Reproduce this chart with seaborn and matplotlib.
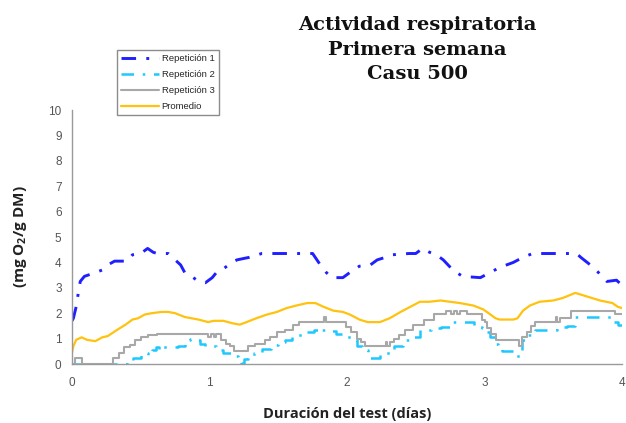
import matplotlib
matplotlib.use("Agg")
import matplotlib.pyplot as plt
import seaborn as sns
import numpy as np

# Repetición 1 (time in days, mg O2/g DM)
rep1_t = [0.0, 0.01, 0.03, 0.04, 0.06, 0.09, 0.17, 0.22, 0.26, 0.31, 0.40, 0.44, 0.50, 0.55, 0.59, 0.62,
          0.70, 0.75, 0.79, 0.82, 0.87, 0.92, 0.97, 1.02, 1.05, 1.09, 1.15, 1.20, 1.29, 1.38, 1.75, 1.80,
          1.85, 1.89, 1.97, 2.02, 2.09, 2.17, 2.22, 2.28, 2.33, 2.45, 2.50, 2.55, 2.60, 2.65, 2.70, 2.77,
          2.84, 2.97, 3.04, 3.11, 3.21, 3.28, 3.35, 3.67, 3.70, 3.77, 3.82, 3.89, 3.96, 4.0]
rep1_v = [1.7, 1.8, 2.25, 2.6, 3.25, 3.45, 3.6, 3.7, 3.9, 4.05, 4.05, 4.3, 4.35, 4.55, 4.4, 4.35,
          4.35, 4.1, 3.9, 3.6, 3.45, 3.25, 3.2, 3.4, 3.6, 3.7, 3.95, 4.1, 4.2, 4.35, 4.35, 3.95,
          3.6, 3.4, 3.4, 3.6, 3.85, 3.9, 4.1, 4.2, 4.3, 4.35, 4.35, 4.55, 4.4, 4.3, 4.1, 3.7,
          3.45, 3.4, 3.6, 3.8, 4.0, 4.2, 4.35, 4.35, 4.2, 3.9, 3.65, 3.25, 3.3, 3.1]

# Repetición 2
rep2_t = [0.0, 0.40, 0.44, 0.50, 0.53, 0.55, 0.58, 0.61, 0.63, 0.66, 0.77, 0.82, 0.86, 0.91, 0.93, 0.97,
          1.05, 1.10, 1.16, 1.21, 1.23, 1.25, 1.28, 1.32, 1.38, 1.45, 1.50, 1.55, 1.60, 1.64, 1.70, 1.76,
          1.80, 1.82, 1.86, 1.92, 1.96, 1.99, 2.04, 2.07, 2.11, 2.15, 2.24, 2.26, 2.34, 2.41, 2.47, 2.53,
          2.61, 2.68, 2.75, 2.92, 2.98, 3.01, 3.04, 3.08, 3.10, 3.13, 3.23, 3.27, 3.31, 3.37, 3.53, 3.60,
          3.66, 3.94, 3.97, 4.0]
rep2_v = [0.0, 0.1, 0.25, 0.35, 0.45, 0.35, 0.55, 0.65, 0.55, 0.65, 0.7, 0.95, 1.0, 0.95, 0.8, 0.7,
          0.55, 0.45, 0.3, 0.2, 0.05, 0.2, 0.3, 0.45, 0.6, 0.75, 0.85, 0.95, 1.05, 1.15, 1.25, 1.35,
          1.25, 1.35, 1.3, 1.2, 1.15, 1.05, 0.95, 0.7, 0.55, 0.25, 0.35, 0.45, 0.7, 0.95, 1.05, 1.35,
          1.4, 1.45, 1.65, 1.45, 1.4, 1.25, 1.05, 0.8, 0.7, 0.5, 0.3, 0.95, 1.15, 1.35, 1.45, 1.5,
          1.85, 1.65, 1.55, 1.55]

# Repetición 3
rep3_t = [0.0, 0.02, 0.07, 0.30, 0.34, 0.38, 0.42, 0.46, 0.50, 0.55, 0.62, 0.99, 1.01, 1.03, 1.05, 1.08,
          1.12, 1.15, 1.18, 1.28, 1.33, 1.40, 1.44, 1.49, 1.55, 1.61, 1.65, 1.83, 1.85, 1.99, 2.03, 2.07,
          2.10, 2.13, 2.28, 2.29, 2.31, 2.34, 2.38, 2.42, 2.48, 2.56, 2.63, 2.72, 2.76, 2.78, 2.80, 2.82,
          2.87, 2.98, 3.00, 3.02, 3.05, 3.08, 3.25, 3.27, 3.31, 3.34, 3.37, 3.52, 3.53, 3.55, 3.63, 3.95,
          4.0]
rep3_v = [0.0, 0.25, 0.0, 0.25, 0.45, 0.65, 0.75, 0.95, 1.05, 1.15, 1.2, 1.05, 1.2, 1.05, 1.2, 0.95,
          0.8, 0.7, 0.5, 0.7, 0.8, 0.95, 1.05, 1.25, 1.35, 1.55, 1.65, 1.85, 1.65, 1.45, 1.25, 1.0,
          0.85, 0.7, 0.85, 0.7, 0.85, 1.0, 1.15, 1.35, 1.55, 1.75, 1.95, 2.1, 1.95, 2.1, 1.95, 2.1,
          1.95, 1.75, 1.65, 1.4, 1.2, 0.95, 0.7, 1.05, 1.25, 1.5, 1.65, 1.85, 1.65, 1.8, 2.1, 1.95,
          1.95]

# Promedio
prom_t = [0.0, 0.01, 0.03, 0.07, 0.11, 0.17, 0.22, 0.26, 0.33, 0.39, 0.44, 0.48, 0.53, 0.58, 0.65, 0.70,
          0.75, 0.82, 0.87, 0.92, 0.99, 1.03, 1.10, 1.17, 1.22, 1.27, 1.34, 1.42, 1.49, 1.56, 1.63, 1.71,
          1.77, 1.83, 1.90, 1.97, 2.02, 2.09, 2.15, 2.24, 2.31, 2.39, 2.46, 2.53, 2.60, 2.68, 2.75, 2.82,
          2.92, 2.99, 3.03, 3.08, 3.11, 3.21, 3.24, 3.28, 3.33, 3.40, 3.50, 3.57, 3.66, 3.75, 3.84, 3.93,
          3.97, 4.0]
prom_v = [0.45, 0.7, 0.95, 1.05, 0.95, 0.9, 1.05, 1.1, 1.35, 1.55, 1.75, 1.8, 1.95, 2.0, 2.05, 2.05,
          2.0, 1.85, 1.8, 1.75, 1.65, 1.7, 1.7, 1.6, 1.55, 1.65, 1.8, 1.95, 2.05, 2.2, 2.3, 2.4,
          2.4, 2.25, 2.1, 2.05, 1.95, 1.75, 1.65, 1.65, 1.8, 2.05, 2.25, 2.45, 2.45, 2.5, 2.45, 2.4,
          2.3, 2.15, 2.0, 1.8, 1.75, 1.75, 1.8, 2.1, 2.3, 2.45, 2.5, 2.6, 2.8, 2.65, 2.5, 2.4,
          2.25, 2.2]

x_ticks = [0, 1, 2, 3, 4]
y_ticks = list(range(0, 11))

title_lines = "Actividad respiratoria\nPrimera semana\nCasu 500"
x_label = "Duración del test (días)"

sns.set_style("white")
plt.rcParams["font.family"] = ["Liberation Sans", "DejaVu Sans"]
plt.rcParams["mathtext.fontset"] = "custom"
plt.rcParams["mathtext.rm"] = "Open Sans:bold"
plt.rcParams["mathtext.it"] = "Open Sans:bold"
plt.rcParams["mathtext.bf"] = "Open Sans:bold"

fig = plt.figure(figsize=(6.26, 4.23), dpi=100)
ax = fig.add_axes([72 / 626, 1 - 364 / 423, 550 / 626, 254 / 423])

sns.lineplot(x=rep1_t, y=rep1_v, ax=ax, color="#1f1fff", lw=2.1, sort=False, estimator=None,
             linestyle=(0, (5, 3.5, 1, 3.5)), label="Repetición 1")
sns.lineplot(x=rep2_t, y=rep2_v, ax=ax, color="#1ec8ff", lw=1.8, sort=False, estimator=None,
             linestyle=(0, (5, 3.5, 1, 3.5)), drawstyle="steps-post", label="Repetición 2")
sns.lineplot(x=rep3_t, y=rep3_v, ax=ax, color="#a8a8a8", lw=1.5, sort=False, estimator=None,
             drawstyle="steps-post", label="Repetición 3")
sns.lineplot(x=prom_t, y=prom_v, ax=ax, color="#ffc20e", lw=1.6, sort=False, estimator=None,
             label="Promedio")

ax.set_xlim(0, 4)
ax.set_ylim(0, 10)
ax.set_xticks(x_ticks)
ax.set_yticks(y_ticks)
ax.tick_params(axis="both", direction="inout", length=8, width=1, color="#8c8c8c",
               labelsize=8.5, labelcolor="#555555")
ax.tick_params(axis="x", pad=5)
for side in ("top", "right"):
    ax.spines[side].set_visible(False)
for side in ("left", "bottom"):
    ax.spines[side].set_color("#9a9a9a")
    ax.spines[side].set_linewidth(1)
ax.set_xlabel(x_label, fontsize=10.5, fontweight="bold", family="Open Sans", color="#222222", labelpad=13)
ax.set_ylabel("(mg O$_{2}$/g DM)", fontsize=11, fontweight="bold", family="Open Sans", color="#222222",
              labelpad=14)

leg = ax.get_legend()
handles, labels = ax.get_legend_handles_labels()
leg.remove()
fig.legend(handles, labels, loc="upper left", bbox_to_anchor=(112 / 626, 1 - 45 / 423),
           fontsize=6.8, frameon=True, fancybox=False, edgecolor="#8c8c8c", framealpha=1,
           handlelength=4.0, handletextpad=0.3, labelspacing=0.75, borderpad=0.45)

fig.text(417 / 626, 1 - 16 / 423, title_lines, ha="center", va="top", fontsize=14,
         fontweight="bold", family="DejaVu Serif", linespacing=1.48, color="#111111")

fig.savefig("out.png", dpi=100)
